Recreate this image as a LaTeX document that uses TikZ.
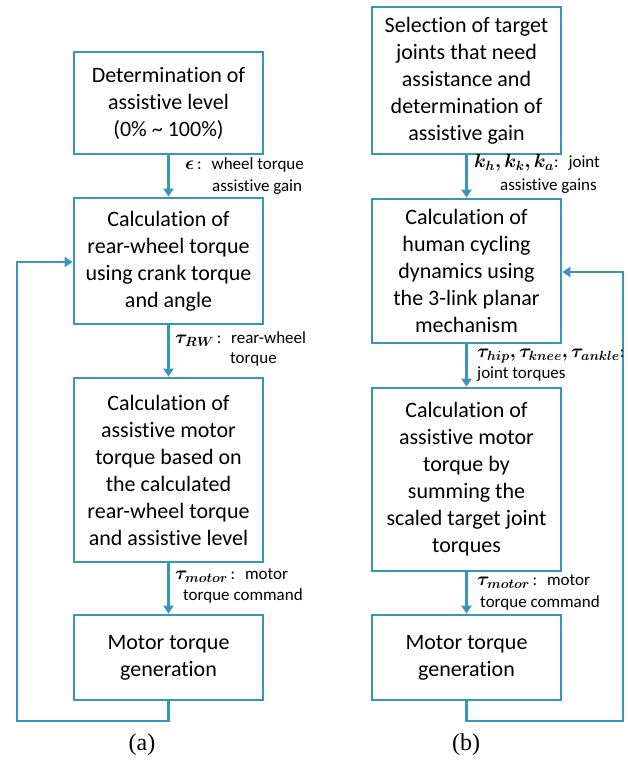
\documentclass[tikz,border=0pt]{standalone}
\usepackage{fix-cm}
\usepackage{amsmath,bm}
\usepackage{fontspec}
\setmainfont{Carlito}[Ligatures=NoCommon]
\newfontfamily\capfont{Liberation Serif}
\usetikzlibrary{arrows.meta}
\definecolor{flow}{RGB}{56,150,184}
\newcommand{\lm}[1]{{\fontsize{19}{20}\selectfont$\bm{#1}$}}
\begin{document}
\begin{tikzpicture}[x=1pt,y=-1pt,
  box/.style={draw=flow,line width=2.8pt,inner sep=0pt,align=center,
    minimum width=189pt,font=\fontsize{22}{27}\selectfont},
  lab/.style={anchor=mid west,inner sep=0pt,font=\fontsize{17}{20}\selectfont},
  conn/.style={draw=flow,line width=2.8pt,-{Triangle[width=10pt,length=8pt]}},
  captext/.style={font=\capfont\fontsize{24}{28}\selectfont}]
\useasboundingbox (0,0) rectangle (627,762);
% left column
\node[box,minimum height=102pt] (a1) at (168.5,103) {Determination of\\assistive level\\(0\% \textasciitilde\ 100\%)};
\node[box,minimum height=126pt] (a2) at (168.5,261) {Calculation of\\rear-wheel torque\\using crank torque\\and angle};
\node[box,minimum height=184pt] (a3) at (168.5,470) {Calculation of\\assistive motor\\torque based on\\the calculated\\rear-wheel torque\\and assistive level};
\node[box,minimum height=85pt] (a4) at (168.5,657.5) {Motor torque\\generation};
% right column
\node[box,minimum height=147pt] (b1) at (466.5,80.5) {Selection of target\\joints that need\\assistance and\\determination of\\assistive gain};
\node[box,minimum height=144pt] (b2) at (466.5,271) {Calculation of\\human cycling\\dynamics using\\the 3-link planar\\mechanism};
\node[box,minimum height=183pt] (b3) at (466.5,479.5) {Calculation of\\assistive motor\\torque by\\summing the\\scaled target joint\\torques};
\node[box,minimum height=85pt] (b4) at (466.5,657.5) {Motor torque\\generation};
% connectors
\draw[conn] (a1) -- (a2);
\draw[conn] (a2) -- (a3);
\draw[conn] (a3) -- (a4);
\draw[conn] (b1) -- (b2);
\draw[conn] (b2) -- (b3);
\draw[conn] (b3) -- (b4);
\coordinate (la1) at (168.5,721);
\coordinate (la2) at (17,721);
\coordinate (la3) at (17,262);
\draw[conn] (a4.south) -- (la1) -- (la2) -- (la3) -- (la3 -| a2.west);
\coordinate (lb1) at (466.5,721);
\coordinate (lb2) at (623,721);
\coordinate (lb3) at (623,272);
\draw[conn] (b4.south) -- (lb1) -- (lb2) -- (lb3) -- (lb3 -| b2.east);
% labels
\node[lab] (l1a) at (185,167) {\lm{\epsilon}\,:\; wheel torque};
\node[lab] (l1b) at (212,189) {assistive gain};
\node[lab] (l2a) at (175,341) {\lm{\tau_{RW}}\,:\; rear-wheel};
\node[lab] (l2b) at (230,361) {torque};
\node[lab] (l3a) at (175,577) {\lm{\tau_{motor}}\,:\; motor};
\node[lab] (l3b) at (183,598) {torque command};
\node[lab] (l4a) at (474,165) {\lm{k_h, k_k, k_a}:\; joint};
\node[lab] (l4b) at (500,188) {assistive gains};
\node[lab] (l5a) at (477,355) {\lm{\tau_{hip}, \tau_{knee}, \tau_{ankle}}:};
\node[lab] (l5b) at (477,376) {joint torques};
\node[lab] (l6a) at (477,583) {\lm{\tau_{motor}}\,:\; motor};
\node[lab] (l6b) at (480,605) {torque command};
% captions
\node[captext] (capa) at (142,745) {(a)};
\node[captext] (capb) at (466,745) {(b)};
\end{tikzpicture}
\end{document}
